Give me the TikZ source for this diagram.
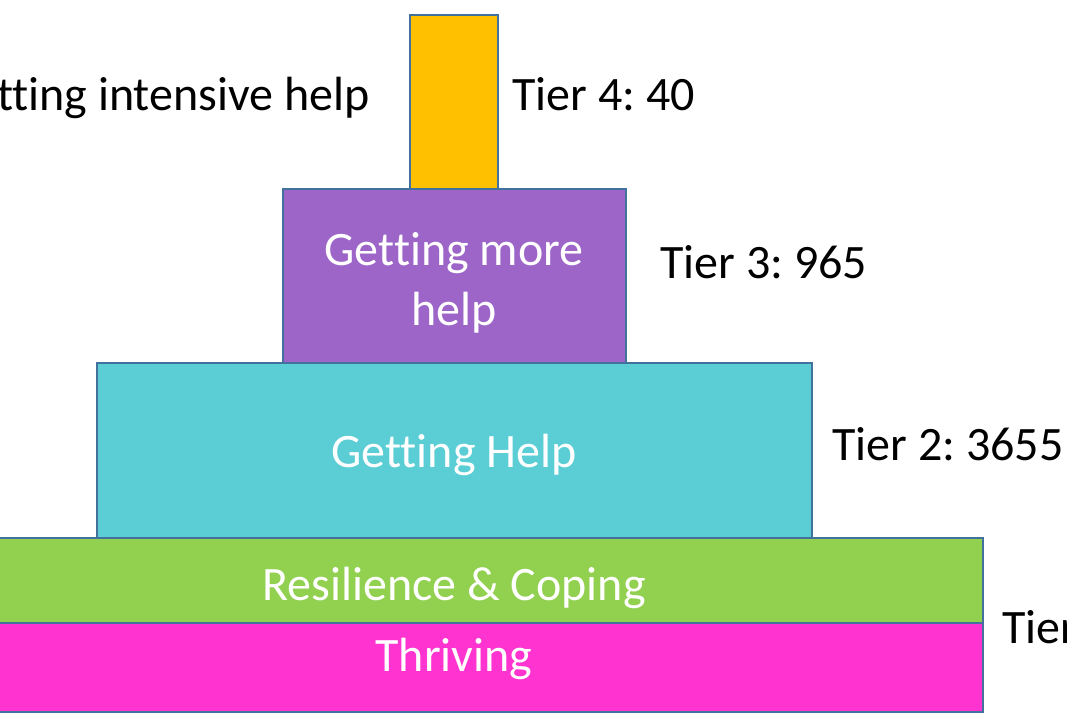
\documentclass[tikz,border=0pt]{standalone}
\usepackage{fontspec}
\setmainfont[Ligatures={NoCommon}]{Carlito}
\usepackage{tikz}
\usetikzlibrary{positioning}
\frenchspacing

\definecolor{tierfour}{RGB}{255,192,0}
\definecolor{tierthree}{RGB}{157,101,200}
\definecolor{tiertwo}{RGB}{91,206,213}
\definecolor{tierone}{RGB}{146,208,80}
\definecolor{tierzero}{RGB}{255,51,207}
\definecolor{edge}{RGB}{65,113,156}

\tikzset{
  tier/.style={draw=edge, line width=2.2pt},
  lbl/.style={inner sep=0pt, font=\fontsize{36}{44.3}\selectfont},
  inlbl/.style={lbl, text=white, align=center, anchor=base},
}

\begin{document}
\begin{tikzpicture}[x=0.75pt,y=-0.75pt]
\useasboundingbox (0,0) rectangle (1067,715);
\clip (0,0) rectangle (1067,715);
% the stack, top to bottom
\draw[tier, fill=tierfour] (410,15) rectangle (498,189);
\draw[tier, fill=tierthree] (283,189) rectangle (626,363);
\draw[tier, fill=tiertwo] (97,363) rectangle (812,538);
\draw[tier, fill=tierone] (-74,538) rectangle (983,623);
\draw[tier, fill=tierzero] (-74,623) rectangle (983,712);
% texts in the boxes
\node[inlbl] (more) at (454,325) {Getting more\\help};
\node[inlbl] (help) at (454,467) {Getting Help};
\node[inlbl] (cope) at (454,600) {Resilience \& Coping};
\node[inlbl] (thrive) at (454,671) {Thriving};
% tier counts
\node[lbl, anchor=base east] (intense) at (370,110) {Getting intensive help};
\node[lbl, anchor=base west] (tfour) at (512,110) {Tier 4: 40};
\node[lbl, anchor=base west] (tthree) at (660,278) {Tier 3: 965};
\node[lbl, anchor=base west] (ttwo) at (832,460) {Tier 2: 3655};
\node[lbl, anchor=base west] (tone) at (1002,643) {Tier};
\end{tikzpicture}
\end{document}
